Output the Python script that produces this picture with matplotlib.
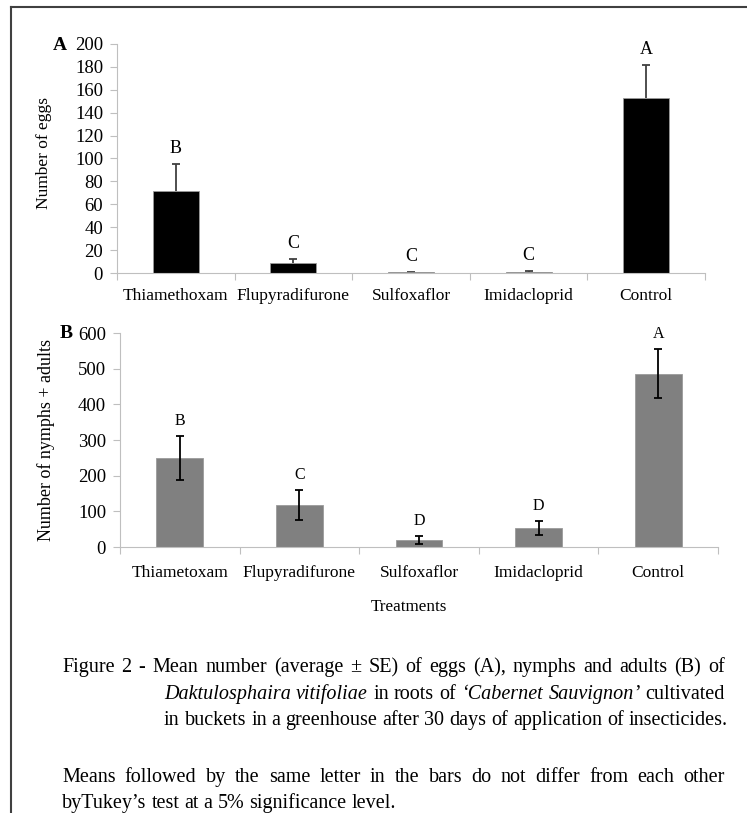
import matplotlib
matplotlib.use("Agg")
import matplotlib.pyplot as plt
from matplotlib.lines import Line2D
import numpy as np

plt.rcParams['font.family'] = ['Liberation Serif', 'DejaVu Serif']

# Daten
TREATMENTS_A = ["Thiamethoxam", "Flupyradifurone", "Sulfoxaflor", "Imidacloprid", "Control"]
EGGS_MEAN = [72, 9, 0.5, 1, 153]
EGGS_SE = [23.5, 3, 0.3, 0.5, 28.5]
EGGS_LETTERS = ["B", "C", "C", "C", "A"]

TREATMENTS_B = ["Thiametoxam", "Flupyradifurone", "Sulfoxaflor", "Imidacloprid", "Control"]
NYMPHS_MEAN = [250, 118, 20, 54, 486]
NYMPHS_SE = [62, 43, 11, 19, 69]
NYMPHS_LETTERS = ["B", "C", "D", "D", "A"]

CAPTION_LINES = [
    "Figure 2 - Mean number (average ± SE) of eggs (A), nymphs and adults (B) of",
    "*Daktulosphaira* *vitifoliae* in roots of *‘Cabernet* *Sauvignon*’ cultivated",
    "in buckets in a greenhouse after 30 days of application of insecticides.",
    "Means followed by the same letter in the bars do not differ from each other",
    "byTukey’s test at a 5% significance level.",
]

W, H = 747, 813
AXIS_GRAY = "#bfbfbf"


def fx(px):
    return px / W


def fy(py):
    return 1 - py / H


def draw_panel(ax, labels, means, se, letters, color, upper_only, ymax, ystep,
               err_color, tick_pad, letter_size):
    x = np.arange(len(labels))
    yerr = [np.zeros(len(se)), se] if upper_only else se
    ax.bar(x, means, width=0.39, color=color, edgecolor="#9a9a9a", linewidth=0.6, zorder=2)
    _, caps, _ = ax.errorbar(x, means, yerr=yerr, fmt="none", ecolor=err_color,
                             elinewidth=1.3, capsize=3, capthick=1.3,
                             zorder=1 if upper_only else 3)
    if upper_only and len(caps) > 1:
        caps[0].set_visible(False)  # untere Kappe ausblenden (nur +SE)
    for xi, m, s, lab in zip(x, means, se, letters):
        ax.annotate(lab, (xi, m + s), xytext=(0, 5), textcoords="offset points",
                    ha="center", va="bottom", fontsize=letter_size)
    ax.set_xlim(-0.5, len(labels) - 0.5)
    ax.set_ylim(0, ymax)
    ax.set_yticks(np.arange(0, ymax + 1, ystep))
    ax.set_xticks(x)
    ax.set_xticklabels(labels)
    ax.set_xticks(np.arange(-0.5, len(labels)), minor=True)
    ax.tick_params(axis="x", which="major", length=0, pad=tick_pad, labelsize=12.5)
    ax.tick_params(axis="x", which="minor", length=5, width=0.8, color=AXIS_GRAY, direction="out")
    ax.tick_params(axis="y", length=5, width=0.8, color=AXIS_GRAY, pad=5, labelsize=13.5)
    for side in ["top", "right"]:
        ax.spines[side].set_visible(False)
    for side in ["left", "bottom"]:
        ax.spines[side].set_color(AXIS_GRAY)
        ax.spines[side].set_linewidth(0.8)


def draw_line(fig, renderer, text, left, right, base_y, justify, size):
    # Wörter mit *kursiv*-Markierung zerlegen
    words = []
    for word in text.split(" "):
        parts = word.split("*")
        pieces = [(p, i % 2 == 1) for i, p in enumerate(parts) if p]
        words.append(pieces)
    # Breiten messen
    widths = []
    for pieces in words:
        wsum = 0
        for p, it in pieces:
            t = fig.text(0, 0, p, fontsize=size, style="italic" if it else "normal")
            wsum += t.get_window_extent(renderer).width
            t.remove()
        widths.append(wsum)
    t = fig.text(0, 0, "a b", fontsize=size)
    w_ab = t.get_window_extent(renderer).width
    t.remove()
    t = fig.text(0, 0, "ab", fontsize=size)
    space = w_ab - t.get_window_extent(renderer).width
    t.remove()
    if justify and len(words) > 1:
        space = (right - left - sum(widths)) / (len(words) - 1)
    xpos = left
    for pieces, wd in zip(words, widths):
        xx = xpos
        for p, it in pieces:
            t = fig.text(fx(xx), fy(base_y), p, fontsize=size, va="baseline", ha="left",
                         style="italic" if it else "normal")
            xx += t.get_window_extent(renderer).width
        xpos += wd + space


def main():
    fig = plt.figure(figsize=(W / 100, H / 100), dpi=100)

    ax_a = fig.add_axes([fx(117), fy(273), fx(705) - fx(117), fy(44) - fy(273)])
    draw_panel(ax_a, TREATMENTS_A, EGGS_MEAN, EGGS_SE, EGGS_LETTERS, "black", True,
               200, 20, "#404040", 11, 13)
    ax_a.set_ylabel("Number of eggs", fontsize=12.5)
    ax_a.yaxis.set_label_coords((52 - 117) / 588, (273 - 153) / 229)

    ax_b = fig.add_axes([fx(120), fy(547), fx(718) - fx(120), fy(333) - fy(547)])
    draw_panel(ax_b, TREATMENTS_B, NYMPHS_MEAN, NYMPHS_SE, NYMPHS_LETTERS, "#808080", False,
               600, 100, "black", 13, 11.5)
    ax_b.set_ylabel("Number of nymphs + adults", fontsize=13)
    ax_b.yaxis.set_label_coords((55 - 120) / 598, (547 - 440) / 214)

    fig.text(fx(409), fy(607), "Treatments", fontsize=12.3, ha="center", va="center")
    fig.text(fx(60), fy(45), "A", fontsize=14, fontweight="bold", ha="center", va="center")
    fig.text(fx(66), fy(333), "B", fontsize=14, fontweight="bold", ha="center", va="center")

    # Rahmen (nur oben und links sichtbar)
    fig.add_artist(Line2D([fx(11), fx(11)], [0, fy(7)], transform=fig.transFigure,
                          color="#404040", lw=1.5))
    fig.add_artist(Line2D([fx(11), 1], [fy(7), fy(7)], transform=fig.transFigure,
                          color="#404040", lw=1.5))

    renderer = fig.canvas.get_renderer()
    size = 14.5
    draw_line(fig, renderer, CAPTION_LINES[0], 62, 725, 672, True, size)
    draw_line(fig, renderer, CAPTION_LINES[1], 164, 725, 699, True, size)
    draw_line(fig, renderer, CAPTION_LINES[2], 164, 725, 725, False, size)
    draw_line(fig, renderer, CAPTION_LINES[3], 62, 725, 782, True, size)
    draw_line(fig, renderer, CAPTION_LINES[4], 62, 725, 808, False, size)

    fig.savefig("out.png", dpi=100)


if __name__ == "__main__":
    main()
